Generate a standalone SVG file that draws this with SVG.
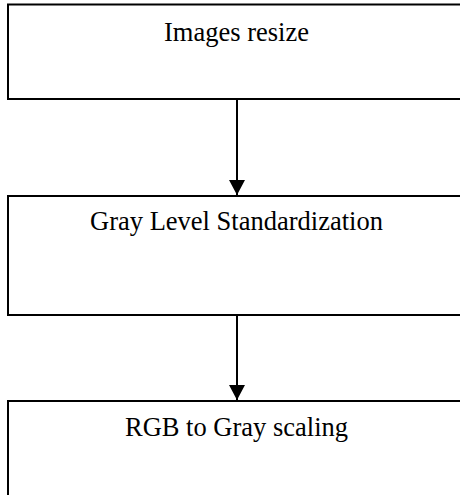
<svg xmlns="http://www.w3.org/2000/svg" width="460" height="495" viewBox="0 0 460 495">
<defs>
<style>
.box{fill:#fff;stroke:#000;stroke-width:2}
.lbl{font-family:"Liberation Serif","Times New Roman",serif;font-size:26.5px;fill:#000;text-anchor:middle}
.conn{stroke:#000;stroke-width:2;fill:none}
</style>
<marker id="ah" markerUnits="userSpaceOnUse" markerWidth="16" markerHeight="17" refX="15" refY="8" orient="auto" viewBox="0 0 16 17">
<path d="M0,0 L15,8 L0,16 Z" fill="#000"/>
</marker>
</defs>
<rect width="460" height="495" fill="#fff"/>
<g id="n1">
<rect class="box" x="8" y="4.5" width="470" height="94.5"/>
<text class="lbl" x="236.5" y="41">Images resize</text>
</g>
<g id="n2">
<rect class="box" x="8" y="196" width="470" height="119"/>
<text class="lbl" x="236.5" y="230">Gray Level Standardization</text>
</g>
<g id="n3">
<rect class="box" x="8" y="401" width="470" height="110"/>
<text class="lbl" x="236.5" y="436">RGB to Gray scaling</text>
</g>
<g id="connectors">
<line class="conn" x1="237" y1="99" x2="237" y2="195" marker-end="url(#ah)"/>
<line class="conn" x1="237" y1="315" x2="237" y2="400" marker-end="url(#ah)"/>
</g>
</svg>
